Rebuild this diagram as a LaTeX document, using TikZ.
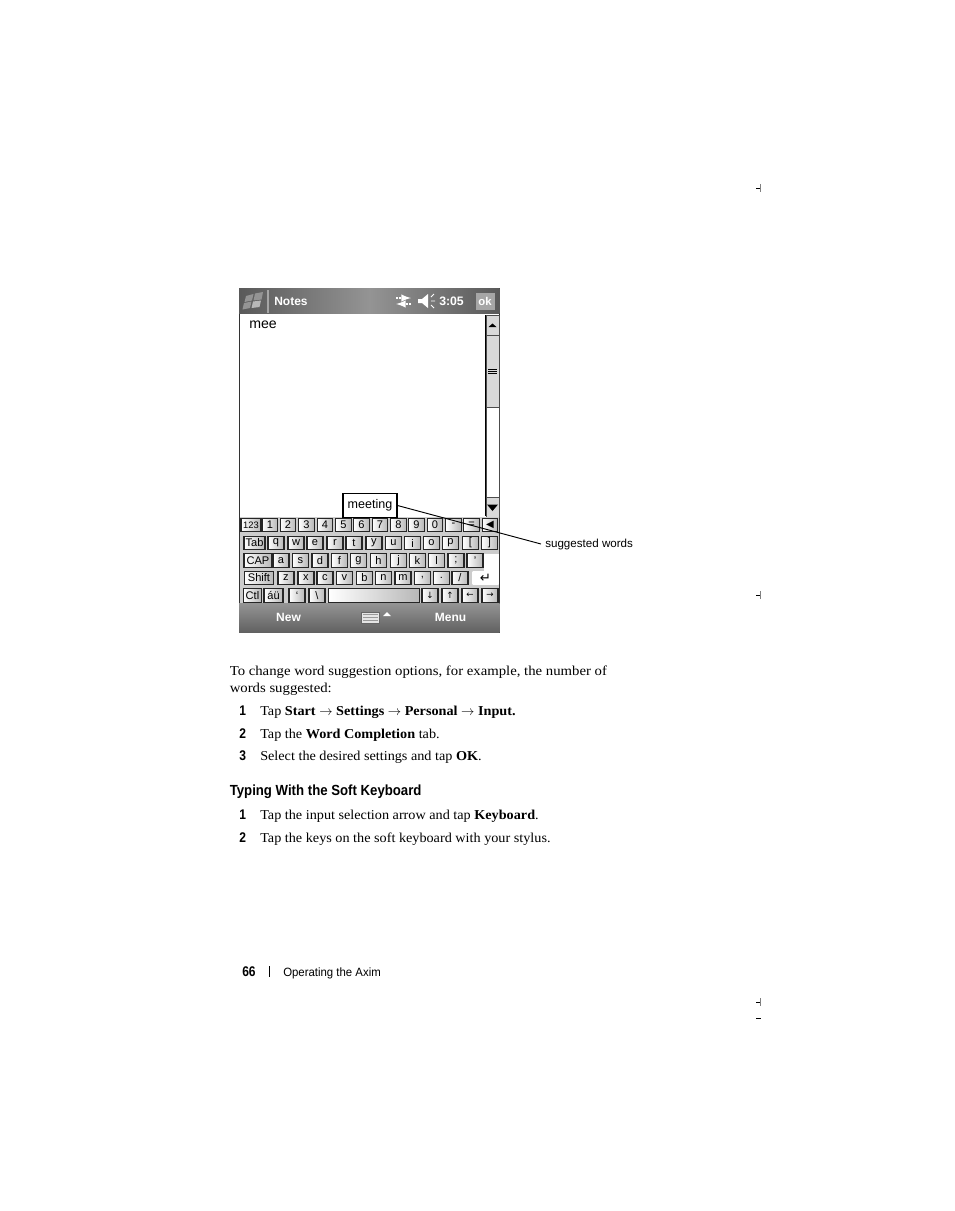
\documentclass[tikz,border=0pt]{standalone}
\usepackage{fontspec}
\setmainfont{Liberation Serif}
\setsansfont{Liberation Sans}
\newfontfamily\narrowsans[FakeStretch=0.86]{Liberation Sans}
\newfontfamily\footsans[FakeStretch=0.95]{Liberation Sans}
\newfontfamily\headsans[FakeStretch=0.9]{Liberation Sans}
\newfontfamily\stepserif[FakeStretch=1.045]{Liberation Serif}
\newfontfamily\paraserif[FakeStretch=1.085]{Liberation Serif}
\usetikzlibrary{arrows,positioning,calc,shapes.misc}

\begin{document}
\begin{tikzpicture}[x=0.75pt,y=-0.75pt]
\tikzset{keycap/.style={draw=black!85,line width=0.8pt,left color=white,right color=black!28,inner sep=0pt,minimum height=13.5*0.75pt,font=\sffamily\fontsize{8.3}{9}\selectfont}}
\tikzset{arrowcap/.style={keycap,font=\fontspec{DejaVu Sans}\fontsize{6.5}{9}\selectfont}}
\tikzset{barlabel/.style={text=white,inner sep=0pt,font=\sffamily\bfseries\fontsize{9}{9}\selectfont}}
\tikzset{bodytext/.style={anchor=base west,inner sep=0pt,font=\stepserif\fontsize{10.2}{11}\selectfont}}
\tikzset{paratext/.style={anchor=base west,inner sep=0pt,font=\paraserif\fontsize{10.2}{11}\selectfont}}
\tikzset{stepnum/.style={anchor=base west,inner sep=0pt,font=\narrowsans\bfseries\fontsize{10.5}{11}\selectfont}}
\tikzset{scrollbtn/.style={draw=black!70,fill=black!15,line width=0.5pt,inner sep=0pt,minimum width=13*0.75pt}}
\useasboundingbox (0,0) rectangle (954,1211);
\fill[white] (0,0) rectangle (954,1211);
% screen
\node[draw=black!80,line width=0.8pt,fill=white,minimum width=260.5*0.75pt,minimum height=343*0.75pt,inner sep=0pt] (screen) at (369.3,460.5) {};
\node[anchor=north,inner sep=0pt,minimum width=260.5*0.75pt,minimum height=25*0.75pt,left color=black!65,right color=black!65,middle color=black!42] (titlebar) at (screen.north) {};
\node[anchor=south,inner sep=0pt,minimum width=260.5*0.75pt,minimum height=29*0.75pt,top color=black!42,bottom color=black!62] (menubar) at (screen.south) {};
% flag
\fill[black!42] (246,296) -- (253.5,294) -- (252,300.5) -- (244.5,302) -- cycle;
\fill[black!42] (255,293.5) -- (263,292) -- (261.5,299.5) -- (253.5,300.5) -- cycle;
\fill[black!42] (244,303) -- (251.5,301.5) -- (250,308) -- (242.5,309.5) -- cycle;
\fill[black!28] (253,301.5) -- (261,300.5) -- (259.5,307) -- (251.5,308) -- cycle;
\draw[black!35,line width=0.8pt] (268,290) -- (268,313);
\node[barlabel,anchor=west] (notes) at (274,301) {Notes};
\node[barlabel,anchor=west,font=\sffamily\bfseries\fontsize{9.2}{9}\selectfont] (clock) at (439,301) {3:05};
% sync and speaker
\draw[white,line width=1.5pt,dash pattern=on 1.5pt off 1pt,-latex] (396,298) -- (411,298);
\draw[white,line width=1.5pt,dash pattern=on 1.5pt off 1pt,-latex] (411,304) -- (396,304);
\fill[white] (418,299) -- (422,299) -- (428,294) -- (428,308) -- (422,303) -- (418,303) -- cycle;
\draw[white,line width=0.7pt] (431,297) -- (434,294) (431,301) -- (435,301) (431,305) -- (434,308);
\node[barlabel,fill=black!35,minimum width=19*0.75pt,minimum height=17*0.75pt,font=\sffamily\bfseries\fontsize{8.5}{9}\selectfont] (okbtn) at (485,301) {ok};
\node[anchor=west,inner sep=0pt,font=\sffamily\fontsize{10.6}{11}\selectfont] (memo) at (249,325) {mee};
% scroll bar
\node[draw=black!70,fill=white,line width=0.5pt,inner sep=0pt,minimum width=13*0.75pt,minimum height=201*0.75pt] (track) at (492.5,416) {};
\node[scrollbtn,minimum height=20*0.75pt] (scrollup) at (492.5,325.5) {};
\node[scrollbtn,minimum height=72*0.75pt] (thumb) at (492.5,371.5) {};
\node[scrollbtn,minimum height=20*0.75pt] (scrolldown) at (492.5,507) {};
\draw[black,line width=0.8pt] (485.5,315) -- (485.5,516);
\fill[black] (488.5,327) -- (496.5,327) -- (492.5,323.5) -- cycle;
\fill[black] (487,504.5) -- (498,504.5) -- (492.5,511) -- cycle;
\foreach \y in {369.5,371.5,373.5} \draw[black,line width=0.6pt] (488,\y) -- (497,\y);
% keyboard
\fill[black!20] (239.5,516.5) rectangle (499.3,603);
\foreach \lab/\x/\w [count=\i] in {{\fontsize{7}{7}\selectfont 123}/251/20,1/270/15.5,2/288/15.5,3/306.5/15.5,4/325/15.5,5/343.5/15.5,6/361.5/15.5,7/380/15.5,8/398.5/15.5,9/416.5/15.5,0/435/15.5,-/453.5/15.5,=/471.5/15.5}
  \node[keycap,minimum width=\w*0.75pt] (numkey\i) at (\x,525) {\lab};
\node[keycap,minimum width=15*0.75pt,font=\fontspec{DejaVu Sans}\fontsize{7.5}{9}\selectfont] (backkey) at (490,525) {◀};
\foreach \lab/\x/\w [count=\i] in {Tab/254.5/21,q/276/16,w/296/16,e/315/16,r/335/16,t/354/16,y/374/16,u/393.5/16,i/412.5/16,o/431.5/16,p/450.5/16,{[}/470.5/16,{]}/489.5/16}
  \node[keycap,minimum width=\w*0.75pt] (topkey\i) at (\x,543) {\lab};
\foreach \lab/\x/\w [count=\i] in {CAP/258/28,a/281/16,s/300.5/16,d/320/16,f/339.5/16,g/358.5/16,h/378.5/16,j/398.5/16,k/417.5/16,l/436.5/16,;/456/16,'/475/16}
  \node[keycap,minimum width=\w*0.75pt] (homekey\i) at (\x,560.5) {\lab};
\fill[white] (483.5,554) rectangle (499,572);
\foreach \lab/\x/\w [count=\i] in {Shift/259/29,z/286/16,x/306/16,c/325/16,v/344.5/16,b/364.5/16,n/383.5/16,m/403/16,{,}/422.5/16,./441.5/16,{\slash}/460/16}
  \node[keycap,minimum width=\w*0.75pt] (lowkey\i) at (\x,578) {\lab};
\node[keycap,minimum width=26*0.75pt,draw=none,right color=white,font=\fontspec{DejaVu Sans}\fontsize{10}{9}\selectfont] (enterkey) at (485.5,578) {↵};
\foreach \lab/\x/\w [count=\i] in {Ctl/252.5/18,áü/273.5/19,`/297/16,\textbackslash/317/16}
  \node[keycap,minimum width=\w*0.75pt] (botkey\i) at (\x,595.5) {\lab};
\node[keycap,minimum width=91*0.75pt] (spacekey) at (374,595.5) {};
\foreach \lab/\x [count=\i] in {↓/430,↑/450,←/470,→/490}
  \node[arrowcap,minimum width=16*0.75pt] (arrowkey\i) at (\x,595.5) {\lab};
% bottom bar
\node[barlabel] (newbtn) at (288.5,617) {New};
\node[barlabel] (menubtn) at (450.5,617) {Menu};
\node[draw=black!60,fill=black!10,line width=0.4pt,inner sep=0pt,minimum width=18*0.75pt,minimum height=11*0.75pt] (kbdicon) at (370.5,617.5) {};
\foreach \y in {614.5,617.5,620.5} \draw[black!40,line width=0.6pt] (363,\y) -- (378,\y);
\coordinate (kbdarrow) at (387,614);
\fill[white] (kbdarrow) ++(-4,2) -- ++(8,0) -- ++(-4,-4) -- cycle;
% suggestion
\node[draw=black,line width=0.8pt,fill=white,inner sep=0pt,minimum width=54*0.75pt,minimum height=24*0.75pt,font=\sffamily\fontsize{9.4}{11}\selectfont] (meeting) at (370,505.5) {meeting};
\node[anchor=west,inner sep=0pt,font=\sffamily\fontsize{8.7}{10}\selectfont] (suggested) at (545,544) {suggested words};
\draw[black,line width=0.7pt] (meeting.east) -- ([xshift=-4*0.75pt]suggested.west);
% body text
\node[paratext] (para1) at (229.5,675) {To change word suggestion options, for example, the number of};
\node[paratext] (para2) at (229.5,692) {words suggested:};
\node[stepnum] (n1) at (239,715) {1};
\node[bodytext] (t1) at (260,715) {Tap \textbf{Start} $\rightarrow$ \textbf{Settings} $\rightarrow$ \textbf{Personal} $\rightarrow$ \textbf{Input.}};
\node[stepnum] (n2) at (239,738) {2};
\node[bodytext] (t2) at (260,738) {Tap the \textbf{Word Completion} tab.};
\node[stepnum] (n3) at (239,760) {3};
\node[bodytext] (t3) at (260,760) {Select the desired settings and tap \textbf{OK}.};
\node[anchor=base west,inner sep=0pt,font=\headsans\bfseries\fontsize{11}{12}\selectfont] (heading) at (229.5,795) {Typing With the Soft Keyboard};
\node[stepnum] (m1) at (239,819) {1};
\node[bodytext] (s1) at (260,819) {Tap the input selection arrow and tap \textbf{Keyboard}.};
\node[stepnum] (m2) at (239,842) {2};
\node[bodytext] (s2) at (260,842) {Tap the keys on the soft keyboard with your stylus.};
% footer
\node[stepnum] (pagenum) at (242,976) {66};
\node[anchor=base west,inner sep=0pt,font=\footsans\fontsize{9}{10}\selectfont] (running) at (283,976) {Operating the Axim};
\draw[black,line width=0.5pt] (269,966) -- (269,977);
% crop marks
\foreach \y in {188,595,1002} {
  \draw[black,line width=0.6pt] (756,\y) -- (760,\y);
  \draw[black!50,line width=0.6pt] (760,\y-4) -- (760,\y+4);
}
\draw[black,line width=0.6pt] (756,1018) -- (761,1018);
\end{tikzpicture}
\end{document}
